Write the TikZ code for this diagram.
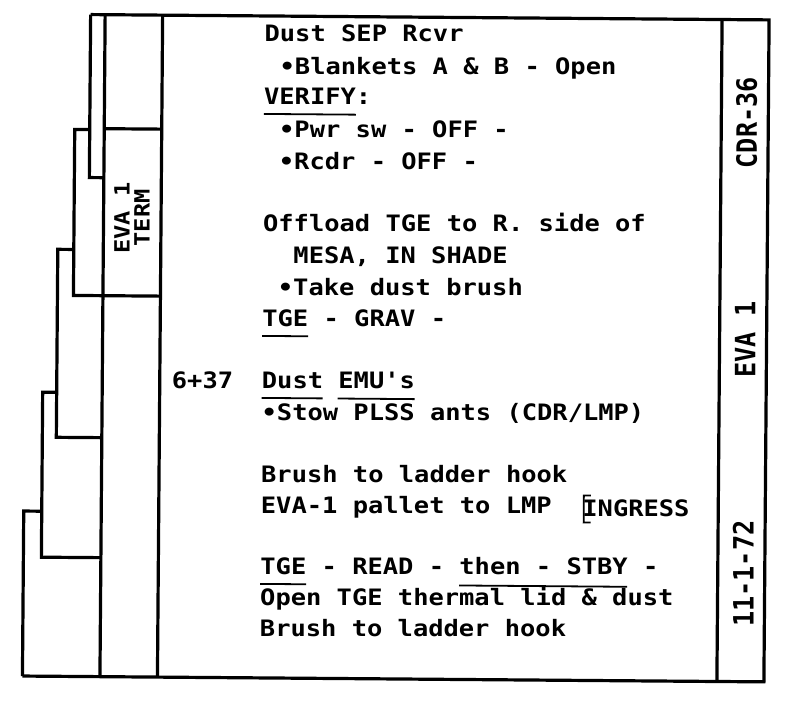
\documentclass[tikz,border=0pt]{standalone}
\usepackage{fontspec}
\usepackage{tikz}
\newfontfamily\checkfont[FakeStretch=1.125]{DejaVu Sans Mono}
\newfontfamily\tabfont[FakeStretch=0.9]{DejaVu Sans Mono}
\tikzset{rule/.style = {line width = 3.2pt, line join = miter}}
\tikzset{uline/.style = {line width = 1.8pt}}
\tikzset{line/.style = {anchor = base west, inner sep = 0,
                        font = \checkfont\bfseries\fontsize{22.6}{26}\selectfont}}
\tikzset{tag/.style = {rotate = 90, inner sep = 0,
                       font = \tabfont\bfseries\fontsize{28}{30}\selectfont}}

\begin{document}
\begin{tikzpicture}[x = 1pt, y = -1pt]
  \useasboundingbox (0, 0) rectangle (797, 712);
  \begin{scope}[rotate around = {-0.45:(400, 350)}]
    % frame and columns
    \draw [rule] (88, 17) -- (766.5, 17) -- (766.5, 679) -- (25, 679);
    \draw [rule] (102.5, 17) -- (102.5, 679);
    \draw [rule] (160, 17) -- (160, 679);
    \draw [rule] (719.5, 17) -- (719.5, 679);
    % index tabs
    \draw [rule] (88, 17) -- (88, 180) -- (102.5, 180);
    \draw [rule] (88, 132) -- (73, 132) -- (73, 298) -- (160, 298);
    \draw [rule] (102.5, 131) -- (160, 131);
    \draw [rule] (73, 252) -- (57, 252) -- (57, 440) -- (102.5, 440);
    \draw [rule] (57, 395) -- (43, 395) -- (43, 560) -- (102.5, 560);
    \draw [rule] (43, 514) -- (25, 514) -- (25, 679);
    \node (term) at (131, 220) [tag, align = center,
      font = \checkfont\bfseries\fontsize{21}{20}\selectfont] {EVA 1\\TERM};
    % side labels
    \node (cdr) at (745, 120) [tag] {CDR-36};
    \node (eva) at (745, 337) [tag] {EVA 1};
    \node (date) at (745, 571) [tag] {11-1-72};
    % checklist
    \node (sep) at (262, 43) [line] {Dust SEP Rcvr};
    \node (blk) at (277.3, 75) [line] {•Blankets A \& B - Open};
    \node (vfy) at (262, 106) [line] {VERIFY:};
    \node (pwr) at (277.3, 138) [line] {•Pwr sw - OFF -};
    \node (rcdr) at (277.3, 170) [line] {•Rcdr - OFF -};
    \node (off) at (262, 233) [line] {Offload TGE to R. side of};
    \node (mesa) at (292.6, 264) [line] {MESA, IN SHADE};
    \node (take) at (277.3, 296) [line] {•Take dust brush};
    \node (grav) at (262, 328) [line] {TGE - GRAV -};
    \node (time) at (172, 390) [line] {6+37};
    \node (emu) at (262, 390) [line] {Dust EMU's};
    \node (plss) at (262, 422) [line] {•Stow PLSS ants (CDR/LMP)};
    \node (hook) at (262, 484) [line] {Brush to ladder hook};
    \node (pal) at (262, 515) [line] {EVA-1 pallet to LMP};
    \node (ingr) at (583.5, 515) [line] {INGRESS};
    \node (read) at (262, 576) [line] {TGE - READ - then - STBY -};
    \node (lid) at (262, 607) [line] {Open TGE thermal lid \& dust};
    \node (hook2) at (262, 638) [line] {Brush to ladder hook};
    % underlines
    \draw [uline] (262, 115) -- (354, 115);
    \draw [uline] (262, 337) -- (308, 337);
    \draw [uline] (262, 399) -- (323, 399);
    \draw [uline] (338, 399) -- (415, 399);
    \draw [uline] (262, 585) -- (308, 585);
    \draw [uline] (461, 585) -- (629, 585);
    \draw [uline] (592, 494) -- (585, 494) -- (585, 521) -- (592, 521);
  \end{scope}
\end{tikzpicture}
\end{document}
